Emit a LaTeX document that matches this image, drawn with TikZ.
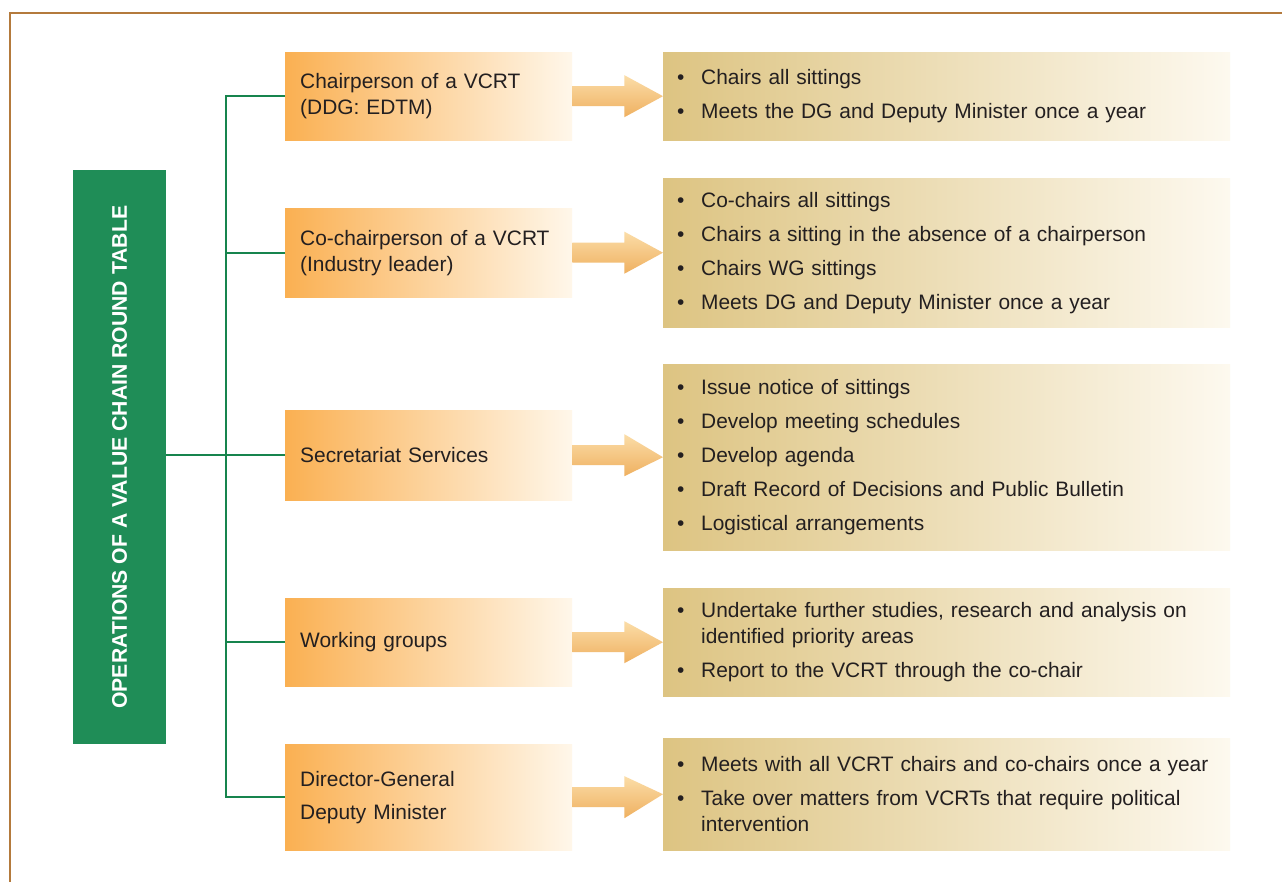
\documentclass[tikz,border=0pt]{standalone}
\usepackage{fontspec}
\setmainfont{Liberation Sans}
\usetikzlibrary{calc}
\definecolor{frame}{HTML}{B47A3C}
\definecolor{barg}{HTML}{1F8D57}
\definecolor{spineg}{HTML}{17844D}
\definecolor{txt}{HTML}{231F20}
\definecolor{orA}{HTML}{FAB052}
\definecolor{orB}{HTML}{FDD59A}
\definecolor{orC}{HTML}{FFF7EA}
\definecolor{tnA}{HTML}{DDC482}
\definecolor{tnB}{HTML}{EDDDB0}
\definecolor{tnC}{HTML}{FDF9EF}
\definecolor{arA}{HTML}{FBDDA8}
\definecolor{arB}{HTML}{EFB060}
\newcommand\itm[1]{\makebox[24pt][l]{\textbullet}#1}
\newcommand\cont[1]{\hspace*{24pt}#1}
\tikzset{
  lbox/.style={anchor=north west, minimum width=287pt, text width=257pt, inner xsep=15pt,
    align=left, left color=orA, middle color=orB, right color=orC, draw=none,
    font=\fontsize{20.9pt}{26pt}\selectfont, text=txt},
  rbox/.style={anchor=north west, minimum width=567pt, text width=539pt, inner xsep=14pt,
    align=left, left color=tnA, middle color=tnB, right color=tnC, draw=none,
    font=\fontsize{20.9pt}{26pt}\selectfont, text=txt},
  conn/.style={draw=spineg, line width=1.8pt},
  arr/.style={top color=arA, bottom color=arB, draw=none}
}
\begin{document}
\begin{tikzpicture}[x=1pt,y=-1pt]
\useasboundingbox (0,0) rectangle (1282,882);
\fill[white] (0,0) rectangle (1282,882);
\draw[frame, line width=1.5pt] (10,882) -- (10,13) -- (1282,13);

% green bar
\node[anchor=north west, fill=barg, minimum width=93pt, minimum height=574pt, inner sep=0pt] (bar) at (73,170) {};
\node[rotate=90, text=white, font=\fontsize{21.2pt}{24pt}\selectfont\bfseries] (bartxt) at (bar.center) {OPERATIONS OF A VALUE CHAIN ROUND TABLE};

% left boxes
\node[lbox, minimum height=88pt] (l1) at (285,52) {Chairperson of a VCRT\\(DDG: EDTM)};
\node[lbox, minimum height=89pt] (l2) at (285,208) {Co-chairperson of a VCRT\\(Industry leader)};
\node[lbox, minimum height=90pt] (l3) at (285,410) {Secretariat Services};
\node[lbox, minimum height=88pt] (l4) at (285,598) {Working groups};
\node[lbox, minimum height=106pt] (l5) at (285,744) {Director-General\\[7pt]Deputy Minister};

% right boxes
\node[rbox, minimum height=88pt] (r1) at (663,52) {\itm{Chairs all sittings}\\[8pt]\itm{Meets the DG and Deputy Minister once a year}};
\node[rbox, minimum height=149pt] (r2) at (663,178) {\itm{Co-chairs all sittings}\\[8pt]\itm{Chairs a sitting in the absence of a chairperson}\\[8pt]\itm{Chairs WG sittings}\\[8pt]\itm{Meets DG and Deputy Minister once a year}};
\node[rbox, minimum height=186pt] (r3) at (663,364) {\itm{Issue notice of sittings}\\[8pt]\itm{Develop meeting schedules}\\[8pt]\itm{Develop agenda}\\[8pt]\itm{Draft Record of Decisions and Public Bulletin}\\[8pt]\itm{Logistical arrangements}};
\node[rbox, minimum height=108pt] (r4) at (663,588) {\itm{Undertake further studies, research and analysis on}\\\cont{identified priority areas}\\[8pt]\itm{Report to the VCRT through the co-chair}};
\node[rbox, minimum height=112pt] (r5) at (663,738) {\itm{Meets with all VCRT chairs and co-chairs once a year}\\[8pt]\itm{Take over matters from VCRTs that require political}\\\cont{intervention}};

% arrows
\foreach \a/\b in {l1/r1,l2/r2,l3/r3,l4/r4,l5/r5}{
  \path[arr] ($(\a.east)+(0,-10)$) -- ($(\a.east)+(52,-10)$) -- ($(\a.east)+(52,-21)$)
    -- (\b.west) -- ($(\a.east)+(52,21)$) -- ($(\a.east)+(52,10)$) -- ($(\a.east)+(0,10)$) -- cycle;
}

% connectors
\coordinate (spine) at (226,0);
\draw[conn] (l1.west) -- (l1.west -| spine) -- (l5.west -| spine) -- (l5.west);
\draw[conn] (l2.west -| spine) -- (l2.west);
\draw[conn] (l4.west -| spine) -- (l4.west);
\draw[conn] (bar.east |- l3.west) -- (l3.west);
\end{tikzpicture}
\end{document}
